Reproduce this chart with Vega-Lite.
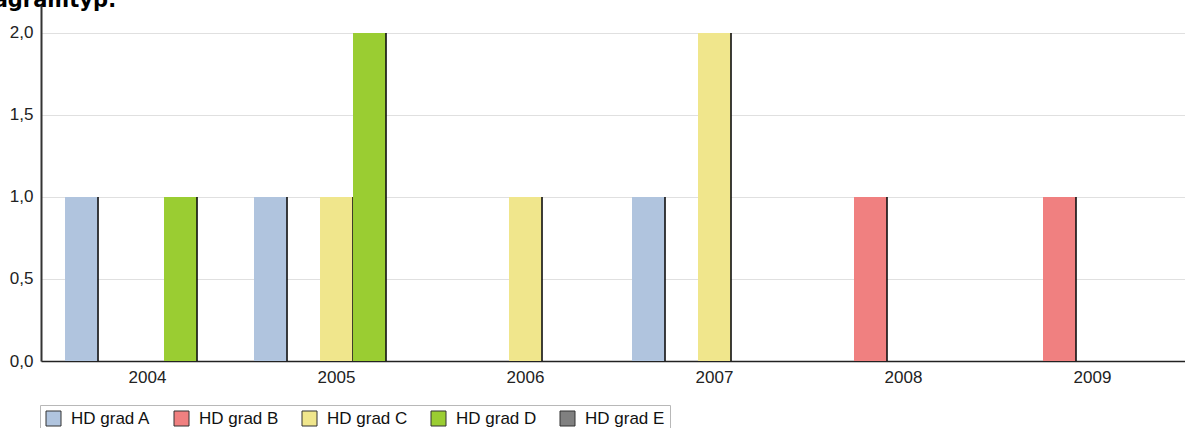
{
  "$schema": "https://vega.github.io/schema/vega-lite/v6.json",
  "autosize": "none",
  "padding": {"left": 41, "top": 5, "right": 0, "bottom": 67},
  "width": 1144,
  "height": 356,
  "background": "white",
  "title": {
    "text": "Diagramtyp:",
    "anchor": "start",
    "align": "left",
    "frame": "group",
    "orient": "top",
    "baseline": "alphabetic",
    "offset": -23,
    "dx": -72,
    "font": "DejaVu Sans",
    "fontSize": 21,
    "fontWeight": "bold",
    "color": "#000"
  },
  "data": {
    "values": [
      {"year": "2004", "grade": "HD grad A", "count": 1},
      {"year": "2004", "grade": "HD grad D", "count": 1},
      {"year": "2005", "grade": "HD grad A", "count": 1},
      {"year": "2005", "grade": "HD grad C", "count": 1},
      {"year": "2005", "grade": "HD grad D", "count": 2},
      {"year": "2006", "grade": "HD grad C", "count": 1},
      {"year": "2007", "grade": "HD grad A", "count": 1},
      {"year": "2007", "grade": "HD grad C", "count": 2},
      {"year": "2008", "grade": "HD grad B", "count": 1},
      {"year": "2009", "grade": "HD grad B", "count": 1}
    ]
  },
  "config": {
    "view": {"stroke": null},
    "font": "Liberation Sans"
  },
  "mark": {"type": "bar", "stroke": "#111", "strokeWidth": 1.6},
  "encoding": {
    "x": {
      "field": "year",
      "type": "nominal",
      "sort": ["2004", "2005", "2006", "2007", "2008", "2009"],
      "scale": {"domain": ["2004", "2005", "2006", "2007", "2008", "2009"], "paddingInner": 0.127, "paddingOuter": 0.09, "align": 0.706},
      "axis": {
        "title": null,
        "labelAngle": 0,
        "ticks": false,
        "labelPadding": 8,
        "labelFontSize": 17,
        "labelColor": "#222",
        "domainColor": "#222",
        "domainWidth": 1.5,
        "grid": false
      }
    },
    "xOffset": {
      "field": "grade",
      "type": "nominal",
      "scale": {"domain": ["HD grad A", "HD grad B", "HD grad C", "HD grad D", "HD grad E"], "paddingInner": 0, "paddingOuter": 0}
    },
    "y": {
      "field": "count",
      "type": "quantitative",
      "scale": {"domain": [0, 2.17], "nice": false, "zero": true},
      "axis": {
        "title": null,
        "values": [0, 0.5, 1, 1.5, 2],
        "labelExpr": "replace(format(datum.value, '.1f'), '.', ',')",
        "ticks": false,
        "labelPadding": 8,
        "labelFontSize": 17,
        "labelColor": "#222",
        "domainColor": "#333",
        "domainWidth": 2,
        "gridColor": "#e0e0e0",
        "gridWidth": 1.2
      }
    },
    "strokeDash": {
      "field": "count",
      "type": "ordinal",
      "scale": {"domain": [1, 2], "range": [[0, 33, 164, 3000], [0, 33, 328, 3000]]},
      "legend": null
    },
    "color": {
      "field": "grade",
      "type": "nominal",
      "scale": {
        "domain": ["HD grad A", "HD grad B", "HD grad C", "HD grad D", "HD grad E"],
        "range": ["#B0C4DE", "#F08080", "#F0E68C", "#9ACD32", "#808080"]
      },
      "legend": {
        "title": null,
        "orient": "none",
        "legendX": -1,
        "legendY": 400,
        "direction": "horizontal",
        "symbolType": "square",
        "symbolSize": 225,
        "symbolOpacity": 1,
        "symbolStrokeColor": "#333",
        "symbolStrokeWidth": 1,
        "symbolDash": [],
        "labelFontSize": 17,
        "labelColor": "#111",
        "labelOffset": 9,
        "columnPadding": 21,
        "padding": 5,
        "strokeColor": "#b8b8b8",
        "fillColor": "white"
      }
    }
  }
}
